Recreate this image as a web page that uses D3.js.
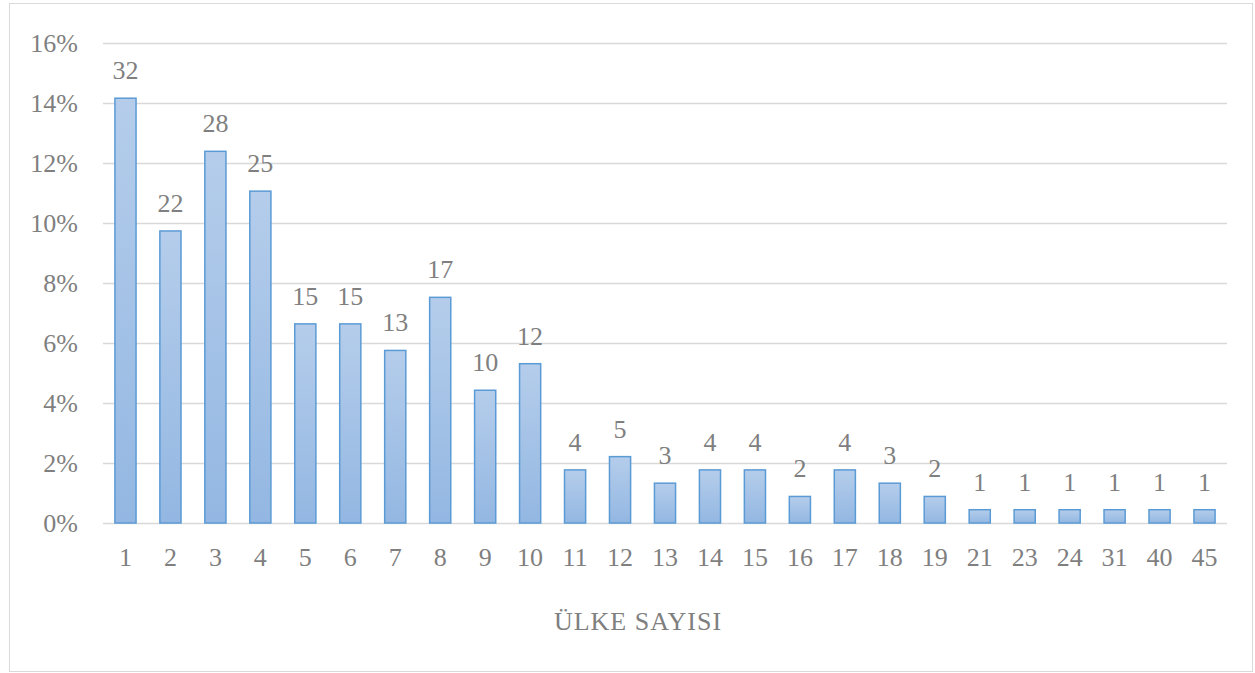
<!DOCTYPE html>
<html>
<head>
<meta charset="utf-8">
<title>Ülke Sayısı</title>
<script src="https://d3js.org/d3.v7.min.js"></script>
<style>
    body { margin: 0; background: #ffffff; }
    svg { display: block; font-family: "Liberation Serif", "DejaVu Serif", serif; }
</style>
</head>
<body>
<svg width="1255" height="673"></svg>
<script>
// category labels on the x axis (number of countries)
const cats = ["1","2","3","4","5","6","7","8","9","10","11","12","13","14","15","16","17","18","19","21","23","24","31","40","45"];
const counts = [32,22,28,25,15,15,13,17,10,12,4,5,3,4,4,2,4,3,2,1,1,1,1,1,1];
const yTicks = [0, 0.02, 0.04, 0.06, 0.08, 0.10, 0.12, 0.14, 0.16];
const axisTitle = "ÜLKE SAYISI";

const total = d3.sum(counts);
const data = cats.map((c, i) => ({cat: c, n: counts[i], p: counts[i] / total}));

const svg = d3.select("svg");
const textColor = "#7f7f7f";

// chart frame
svg.append("rect")
    .attr("x", 9.5).attr("y", 3.5)
    .attr("width", 1243).attr("height", 668)
    .attr("fill", "#fff").attr("stroke", "#d9d9d9");

const x = d3.scaleBand()
    .domain(cats)
    .range([103, 1227])
    .paddingInner(0.53)
    .paddingOuter(0.265);

const y = d3.scaleLinear()
    .domain([0, 0.16])
    .range([523, 43]);

// gridlines
svg.append("g")
    .selectAll("line")
    .data(yTicks)
    .join("line")
    .attr("x1", 103).attr("x2", 1227)
    .attr("y1", d => Math.round(y(d)) + 0.5)
    .attr("y2", d => Math.round(y(d)) + 0.5)
    .attr("stroke", "#d9d9d9")
    .attr("stroke-width", 1.5);

// y labels
svg.append("g")
    .selectAll("text")
    .data(yTicks)
    .join("text")
    .attr("x", 78)
    .attr("y", d => y(d) + 9)
    .attr("text-anchor", "end")
    .attr("fill", textColor)
    .attr("font-size", 26)
    .text(d => d3.format(".0%")(d));

// bar gradient
const grad = svg.append("defs").append("linearGradient")
    .attr("id", "barGrad")
    .attr("x1", 0).attr("y1", 0).attr("x2", 0).attr("y2", 1);
grad.append("stop").attr("offset", "0%").attr("stop-color", "#b5cdeb");
grad.append("stop").attr("offset", "100%").attr("stop-color", "#93b7e2");

// bars
svg.append("g")
    .selectAll("rect")
    .data(data)
    .join("rect")
    .attr("x", d => x(d.cat))
    .attr("y", d => y(d.p))
    .attr("width", x.bandwidth())
    .attr("height", d => y(0) - y(d.p))
    .attr("fill", "url(#barGrad)")
    .attr("stroke", "#5b9bd5")
    .attr("stroke-width", 1.5);

// value labels
svg.append("g")
    .selectAll("text")
    .data(data)
    .join("text")
    .attr("x", d => x(d.cat) + x.bandwidth() / 2)
    .attr("y", d => y(d.p) - 19)
    .attr("text-anchor", "middle")
    .attr("fill", textColor)
    .attr("font-size", 26)
    .text(d => d.n);

// x labels
svg.append("g")
    .selectAll("text")
    .data(cats)
    .join("text")
    .attr("x", d => x(d) + x.bandwidth() / 2)
    .attr("y", 566)
    .attr("text-anchor", "middle")
    .attr("fill", textColor)
    .attr("font-size", 26)
    .text(d => d);

// axis title
svg.append("text")
    .attr("x", 638)
    .attr("y", 630)
    .attr("text-anchor", "middle")
    .attr("fill", textColor)
    .attr("font-size", 26)
    .attr("letter-spacing", 1)
    .text(axisTitle);
</script>
</body>
</html>
